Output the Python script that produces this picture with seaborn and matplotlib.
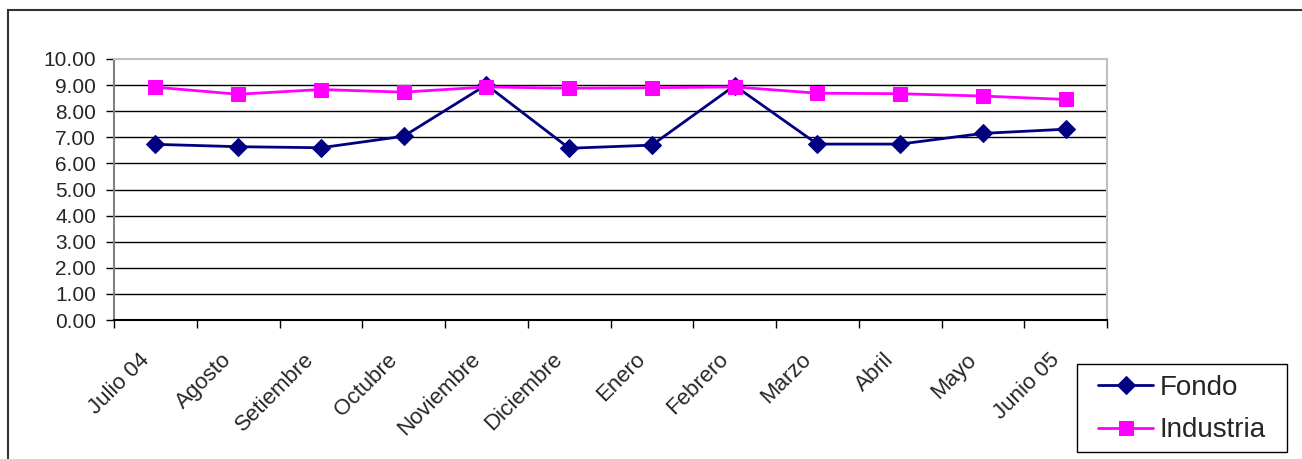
"""Fondo vs Industria monthly line chart."""

import matplotlib

matplotlib.use("Agg")

import matplotlib.pyplot as plt
import matplotlib.transforms as mtransforms
import pandas as pd
import seaborn as sns
from matplotlib.patches import Rectangle

months = ["Julio 04", "Agosto", "Setiembre", "Octubre", "Noviembre", "Diciembre",
          "Enero", "Febrero", "Marzo", "Abril", "Mayo", "Junio 05"]
fondo = [6.73, 6.64, 6.60, 7.04, 9.01, 6.58, 6.70, 8.98, 6.74, 6.74, 7.15, 7.31]
industria = [8.92, 8.65, 8.83, 8.73, 8.93, 8.88, 8.90, 8.93, 8.69, 8.67, 8.58, 8.45]
y_ticks = [0, 1, 2, 3, 4, 5, 6, 7, 8, 9, 10]

sns.set_theme(style="white")
plt.rcParams["font.family"] = ["Liberation Sans", "DejaVu Sans"]

data = pd.DataFrame({"Mes": months, "Fondo": fondo, "Industria": industria})
data["pos"] = range(len(months))

fig = plt.figure(figsize=(13.02, 4.59), dpi=100)
ax = fig.add_axes([114 / 1302, 1 - 320 / 459, (1107 - 114) / 1302, (320 - 59) / 459])

sns.lineplot(data=data, x="pos", y="Fondo", ax=ax, color="#000080", marker="D",
             markersize=9, markeredgecolor="#000080", linewidth=2, label="Fondo")
sns.lineplot(data=data, x="pos", y="Industria", ax=ax, color="#FF00FF", marker="s",
             markersize=9.5, markeredgecolor="#FF00FF", linewidth=2, label="Industria")

ax.set_xlim(-0.5, len(months) - 0.5)
ax.set_ylim(0, 10)
ax.set_yticks(y_ticks)
ax.set_yticklabels([f"{v:.2f}" for v in y_ticks], fontsize=15)
ax.set_xticks(data["pos"])
ax.set_xticks([p - 0.5 for p in range(len(months) + 1)], minor=True)
ax.tick_params(axis="x", which="major", length=0, pad=21)
ax.tick_params(axis="x", which="minor", length=6, width=1, color="black", direction="out", bottom=True)
ax.tick_params(axis="y", length=6, width=1, color="black", direction="out", left=True, pad=7)
ax.set_xticklabels(months, fontsize=16, rotation=45, ha="right", rotation_mode="anchor")
shift = mtransforms.ScaledTranslation(-17 / 100, 0, fig.dpi_scale_trans)
for lbl in ax.get_xticklabels():
    lbl.set_transform(lbl.get_transform() + shift)
ax.set_xlabel("")
ax.set_ylabel("")

for v in y_ticks[1:-1]:
    ax.axhline(v, color="black", linewidth=1, zorder=0)

ax.spines["top"].set_color("#C0C0C0")
ax.spines["right"].set_color("#C0C0C0")
ax.spines["left"].set_color("#808080")
ax.spines["bottom"].set_color("black")
for s in ax.spines.values():
    s.set_linewidth(1.5)

# legend box drawn by hand so the padding can differ horizontally and vertically
ax.legend(loc="center left", bbox_to_anchor=(1098 / 1302, 1 - 409 / 459),
          bbox_transform=fig.transFigure, fontsize=20, frameon=False,
          borderpad=0, handlelength=1.98, handletextpad=0.25,
          labelspacing=0.6, borderaxespad=0)
fig.patches.append(Rectangle((1077 / 1302, 7 / 459), 210 / 1302, 88 / 459,
                             transform=fig.transFigure, fill=False,
                             edgecolor="black", linewidth=1))

fig.patches.append(Rectangle((8 / 1302, -0.1), 1.1, 1.1 - 10 / 459, transform=fig.transFigure,
                             fill=False, edgecolor="#333333", linewidth=1.5))

fig.savefig("out.png", dpi=100)
plt.close(fig)
